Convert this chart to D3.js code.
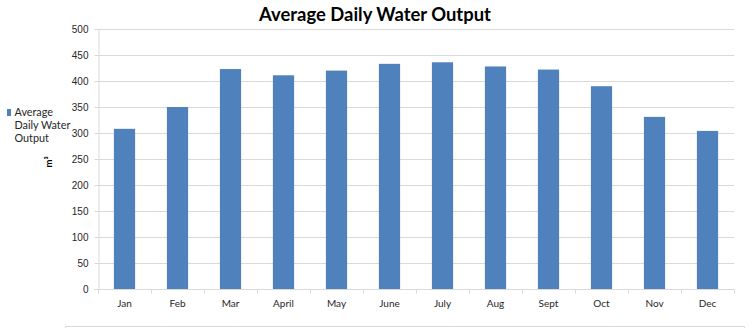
<!DOCTYPE html>
<html>
<head>
<meta charset="utf-8">
<script src="https://cdn.jsdelivr.net/npm/d3@7"></script>
<style>
  html, body { margin: 0; padding: 0; background: #fff; }
  svg { display: block; font-family: Lato, "Open Sans", sans-serif; }
</style>
</head>
<body>
<svg id="chart" width="752" height="328"></svg>
<script>
// Monthly average daily water output (m³)
const months = ["Jan", "Feb", "Mar", "April", "May", "June", "July", "Aug", "Sept", "Oct", "Nov", "Dec"];
const output = [308, 350, 423, 411, 420, 433, 436, 428, 422, 390, 331, 304];
const yTicks = [0, 50, 100, 150, 200, 250, 300, 350, 400, 450, 500];
const seriesName = ["Average", "Daily Water", "Output"];
const titleText = "Average Daily Water Output";

const svg = d3.select("#chart");
const plot = { left: 98, right: 734, top: 29, bottom: 289 };

const x = d3.scaleBand().domain(months).range([plot.left, plot.right]).paddingInner(0.6).paddingOuter(0.3);
const xEdges = d3.scaleBand().domain(months).range([plot.left, plot.right]);
const y = d3.scaleLinear().domain([0, 500]).range([plot.bottom, plot.top]);

// horizontal gridlines
svg.append("g").selectAll("line").data(yTicks.filter(d => d > 0)).join("line")
  .attr("x1", plot.left).attr("x2", plot.right)
  .attr("y1", d => y(d) + 0.5).attr("y2", d => y(d) + 0.5)
  .attr("stroke", "#d9d9d9").attr("stroke-width", 1);

// bars
svg.append("g").selectAll("rect").data(months).join("rect")
  .attr("x", d => x(d))
  .attr("width", x.bandwidth())
  .attr("y", (d, i) => y(output[i]))
  .attr("height", (d, i) => y(0) - y(output[i]))
  .attr("fill", "#4f81bd");

// y axis
const yAxis = svg.append("g").attr("transform", `translate(${plot.left + 0.5},0)`)
  .call(d3.axisLeft(y).tickValues(yTicks).tickSize(4).tickPadding(6));
yAxis.select(".domain").attr("stroke", "#d9d9d9");
yAxis.selectAll(".tick line").attr("stroke", "#d9d9d9");
yAxis.selectAll("text").attr("font-size", 10).attr("fill", "#262626");

// x axis, ticks at category boundaries
const xAxisG = svg.append("g").attr("transform", `translate(0,${plot.bottom + 0.5})`);
xAxisG.append("line").attr("x1", plot.left).attr("x2", plot.right)
  .attr("stroke", "#d9d9d9");
const boundaries = months.map(m => xEdges(m)).concat([plot.right]);
xAxisG.selectAll("line.tk").data(boundaries).join("line").attr("class", "tk")
  .attr("x1", d => Math.round(d) + 0.5).attr("x2", d => Math.round(d) + 0.5)
  .attr("y1", 0).attr("y2", 4).attr("stroke", "#d9d9d9");
xAxisG.selectAll("text").data(months).join("text")
  .attr("x", d => xEdges(d) + xEdges.bandwidth() / 2)
  .attr("y", 17.5)
  .attr("text-anchor", "middle")
  .attr("font-size", 10).attr("fill", "#262626")
  .text(d => d);

// title
const title = svg.append("text")
  .attr("x", 375).attr("y", 21)
  .attr("text-anchor", "middle")
  .attr("font-weight", "bold").attr("font-size", 19).attr("fill", "#000")
  .text(titleText);
const tw = title.node().getComputedTextLength();
title.attr("font-size", 19 * 232 / tw);

// legend
svg.append("rect").attr("x", 7).attr("y", 109).attr("width", 4).attr("height", 7).attr("fill", "#4f81bd");
svg.append("g").selectAll("text").data(seriesName).join("text")
  .attr("x", 14.5).attr("y", (d, i) => 116 + i * 13)
  .attr("font-size", 10.8).attr("fill", "#262626")
  .text(d => d);

// axis unit
svg.append("text")
  .attr("transform", "translate(52,162) rotate(-90)")
  .attr("text-anchor", "middle")
  .attr("font-size", 9.5).attr("font-weight", "bold").attr("fill", "#000")
  .text("m³");

// bottom frame edge
svg.append("path")
  .attr("d", "M65.5,340 V326.5 H744.5 V340")
  .attr("fill", "none").attr("stroke", "#d9d9d9");
</script>
</body>
</html>
